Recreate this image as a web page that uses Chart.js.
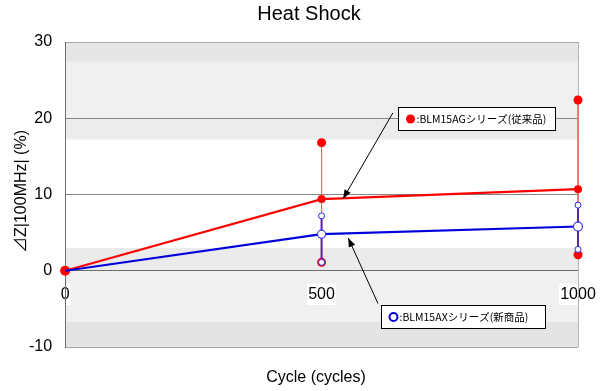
<!DOCTYPE html>
<html>
<head>
<meta charset="utf-8">
<script src="https://cdn.jsdelivr.net/npm/chart.js@4"></script>
<style>
  html, body { margin: 0; padding: 0; background: #fff; }
  #wrap { width: 606px; height: 391px; }
</style>
</head>
<body>
<div id="wrap"><canvas id="grafico" width="606" height="391"></canvas></div>
<script>
// valores
const cycles = [0, 500, 1000];
const agMean = [0, 9.4, 10.7];
const agMax = [null, 16.8, 22.4];
const agMin = [null, 1.1, 2.1];
const axMean = [0, 4.8, 5.8];
const axMax = [null, 7.2, 8.6];
const axMin = [null, 1.1, 2.8];
const xTicks = [0, 500, 1000];
const yTicks = [-10, 0, 10, 20, 30];
const titulo = "Heat Shock";
const tituloX = "Cycle (cycles)";
const tituloY = "⊿Z|100MHz| (%)";
const agLabel = ":BLM15AGシリーズ(従来品)";
const axLabel = ":BLM15AXシリーズ(新商品)";

const fonte = "'Liberation Sans', Arial, 'Noto Sans CJK JP', sans-serif";

function pontos(valores) {
  return cycles.map((c, i) => ({ x: c, y: valores[i] }));
}

function faixa(max, min) {
  const out = [];
  cycles.forEach((c, i) => {
    if (max[i] == null) return;
    out.push({ x: c, y: max[i] });
    out.push({ x: c, y: min[i] });
    out.push({ x: c, y: null });
  });
  return out;
}

// faixas de fundo (estilo do Excel)
const fundo = {
  id: "fundo",
  beforeDraw(chart) {
    const { ctx, chartArea: a, scales: { y } } = chart;
    const faixas = [
      [30, 20, "#f0f0f0"], [30, 27.4, "#e6e6e6"],
      [20, 10, "#ffffff"], [20, 17.2, "#ececec"],
      [10, 0, "#ffffff"], [3, 0, "#ebebeb"],
      [0, -10, "#f0f0f0"], [-6.7, -10, "#e4e4e4"],
    ];
    ctx.save();
    faixas.forEach(([t, b, cor]) => {
      ctx.fillStyle = cor;
      const y1 = y.getPixelForValue(t);
      const y2 = y.getPixelForValue(b);
      ctx.fillRect(a.left, y1, a.right - a.left, y2 - y1);
    });
    ctx.restore();
  },
  beforeDatasetsDraw(chart) {
    const { ctx, chartArea: a } = chart;
    ctx.save();
    ctx.strokeStyle = "#b4b4b4";
    ctx.lineWidth = 1;
    ctx.beginPath();
    ctx.moveTo(Math.round(a.right) + 0.5, a.top);
    ctx.lineTo(Math.round(a.right) + 0.5, a.bottom);
    ctx.stroke();
    ctx.restore();
  },
};

// títulos desenhados à mão para acertar a posição
const titulos = {
  id: "titulos",
  afterDraw(chart) {
    const { ctx, chartArea: a } = chart;
    ctx.save();
    ctx.fillStyle = "#000";
    ctx.textAlign = "center";
    ctx.textBaseline = "middle";
    ctx.font = "20px " + fonte;
    ctx.fillText(titulo, 309, 14);
    ctx.font = "16px " + fonte;
    ctx.fillText(tituloX, 316, 378);
    ctx.translate(22, (a.top + a.bottom) / 2 - 3);
    ctx.rotate(-Math.PI / 2);
    ctx.fillText(tituloY, 0, 0);
    ctx.restore();
  },
};

// caixas de legenda com setas
const notas = [
  { box: [649, 21.5, 955, 18.4], de: [639, 20.7], para: [542, 9.45], texto: agLabel, marca: "cheio" },
  { box: [616, -4.5, 936, -7.5], de: [610, -4.3], para: [552, 4.3], texto: axLabel, marca: "vazio" },
];

function seta(ctx, x1, y1, x2, y2) {
  const ang = Math.atan2(y2 - y1, x2 - x1);
  ctx.beginPath();
  ctx.moveTo(x1, y1);
  ctx.lineTo(x2, y2);
  ctx.stroke();
  const L = 9, W = 3.5;
  ctx.beginPath();
  ctx.moveTo(x2, y2);
  ctx.lineTo(x2 - L * Math.cos(ang) + W * Math.sin(ang), y2 - L * Math.sin(ang) - W * Math.cos(ang));
  ctx.lineTo(x2 - L * Math.cos(ang) - W * Math.sin(ang), y2 - L * Math.sin(ang) + W * Math.cos(ang));
  ctx.closePath();
  ctx.fill();
}

const anotacoes = {
  id: "anotacoes",
  afterDraw(chart) {
    const { ctx, scales: { x, y } } = chart;
    ctx.save();
    notas.forEach((n) => {
      const l = Math.round(x.getPixelForValue(n.box[0])) + 0.5;
      const t = Math.round(y.getPixelForValue(n.box[1])) + 0.5;
      const r = Math.round(x.getPixelForValue(n.box[2])) + 0.5;
      const b = Math.round(y.getPixelForValue(n.box[3])) + 0.5;
      ctx.strokeStyle = "#000";
      ctx.fillStyle = "#000";
      ctx.lineWidth = 1;
      seta(ctx, x.getPixelForValue(n.de[0]), y.getPixelForValue(n.de[1]),
        x.getPixelForValue(n.para[0]), y.getPixelForValue(n.para[1]));
      ctx.fillStyle = "#fff";
      ctx.fillRect(l, t, r - l, b - t);
      ctx.strokeRect(l, t, r - l, b - t);
      const cy = (t + b) / 2;
      const mx = l + 12;
      if (n.marca === "cheio") {
        ctx.fillStyle = "#ff0000";
        ctx.beginPath();
        ctx.arc(mx, cy, 4.5, 0, Math.PI * 2);
        ctx.fill();
      } else {
        ctx.strokeStyle = "#0000dd";
        ctx.lineWidth = 2;
        ctx.beginPath();
        ctx.arc(mx, cy, 4, 0, Math.PI * 2);
        ctx.stroke();
      }
      ctx.fillStyle = "#000";
      ctx.font = "10.5px 'Noto Sans CJK JP', sans-serif";
      ctx.textBaseline = "middle";
      ctx.fillText(n.texto, mx + 6, cy + 0.5);
    });
    ctx.restore();
  },
};

const corGrade = (c) => {
  const v = c.tick.value;
  if (v === 30 || v === -10) return "#a8a8a8";
  if (v === 0) return "#6e6e6e";
  return "#858585";
};

new Chart(document.getElementById("grafico"), {
  type: "line",
  data: {
    datasets: [
      {
        data: faixa(agMax, agMin),
        borderColor: "#ff6666",
        borderWidth: 1,
        pointRadius: 4.5,
        pointBackgroundColor: "#ff0000",
        pointBorderColor: "#ff0000",
        pointBorderWidth: 0,
        spanGaps: false,
        clip: false,
        order: 4,
      },
      {
        data: faixa(axMax, axMin),
        borderColor: "#5a22a8",
        borderWidth: 2,
        pointRadius: 3,
        pointBackgroundColor: "#ffffff",
        pointBorderColor: "#2a2ae0",
        pointBorderWidth: 1,
        spanGaps: false,
        clip: false,
        order: 3,
      },
      {
        data: pontos(agMean),
        borderColor: "#ff0000",
        borderWidth: 2.2,
        pointRadius: [5, 4, 4],
        pointBackgroundColor: "#ff0000",
        pointBorderColor: "#ff0000",
        pointBorderWidth: 0,
        clip: false,
        order: 2,
      },
      {
        data: pontos(axMean),
        borderColor: "#0000dd",
        borderWidth: 2.2,
        pointRadius: [0, 4, 4.5],
        pointBackgroundColor: "#ffffff",
        pointBorderColor: "#3a3aee",
        pointBorderWidth: 1.2,
        clip: false,
        order: 1,
      },
    ],
  },
  options: {
    responsive: false,
    animation: false,
    events: [],
    layout: { padding: { left: 16, right: 28, top: 42, bottom: 44 } },
    plugins: {
      legend: { display: false },
      tooltip: { enabled: false },
    },
    scales: {
      x: {
        type: "linear",
        position: { y: 0 },
        min: 0,
        max: 1000,
        afterBuildTicks: (s) => { s.ticks = xTicks.map((v) => ({ value: v })); },
        afterFit: (s) => { s.paddingLeft = 0; s.paddingRight = 0; },
        grid: { display: false, drawTicks: false },
        border: { display: true, color: "#6e6e6e", width: 1 },
        ticks: {
          color: "#000",
          font: { family: fonte, size: 16 },
          padding: 14,
          maxRotation: 0,
          callback: (v) => String(v),
          showLabelBackdrop: true,
          backdropColor: "#ffffff",
          backdropPadding: 1,
        },
      },
      y: {
        min: -10,
        max: 30,
        afterBuildTicks: (s) => { s.ticks = yTicks.map((v) => ({ value: v })); },
        grid: { color: corGrade, drawTicks: false, lineWidth: 1 },
        border: { display: true, color: "#6e6e6e", width: 1 },
        ticks: {
          color: "#000",
          font: { family: fonte, size: 16 },
          padding: 13,
        },
      },
    },
  },
  plugins: [fundo, titulos, anotacoes],
});
</script>
</body>
</html>
